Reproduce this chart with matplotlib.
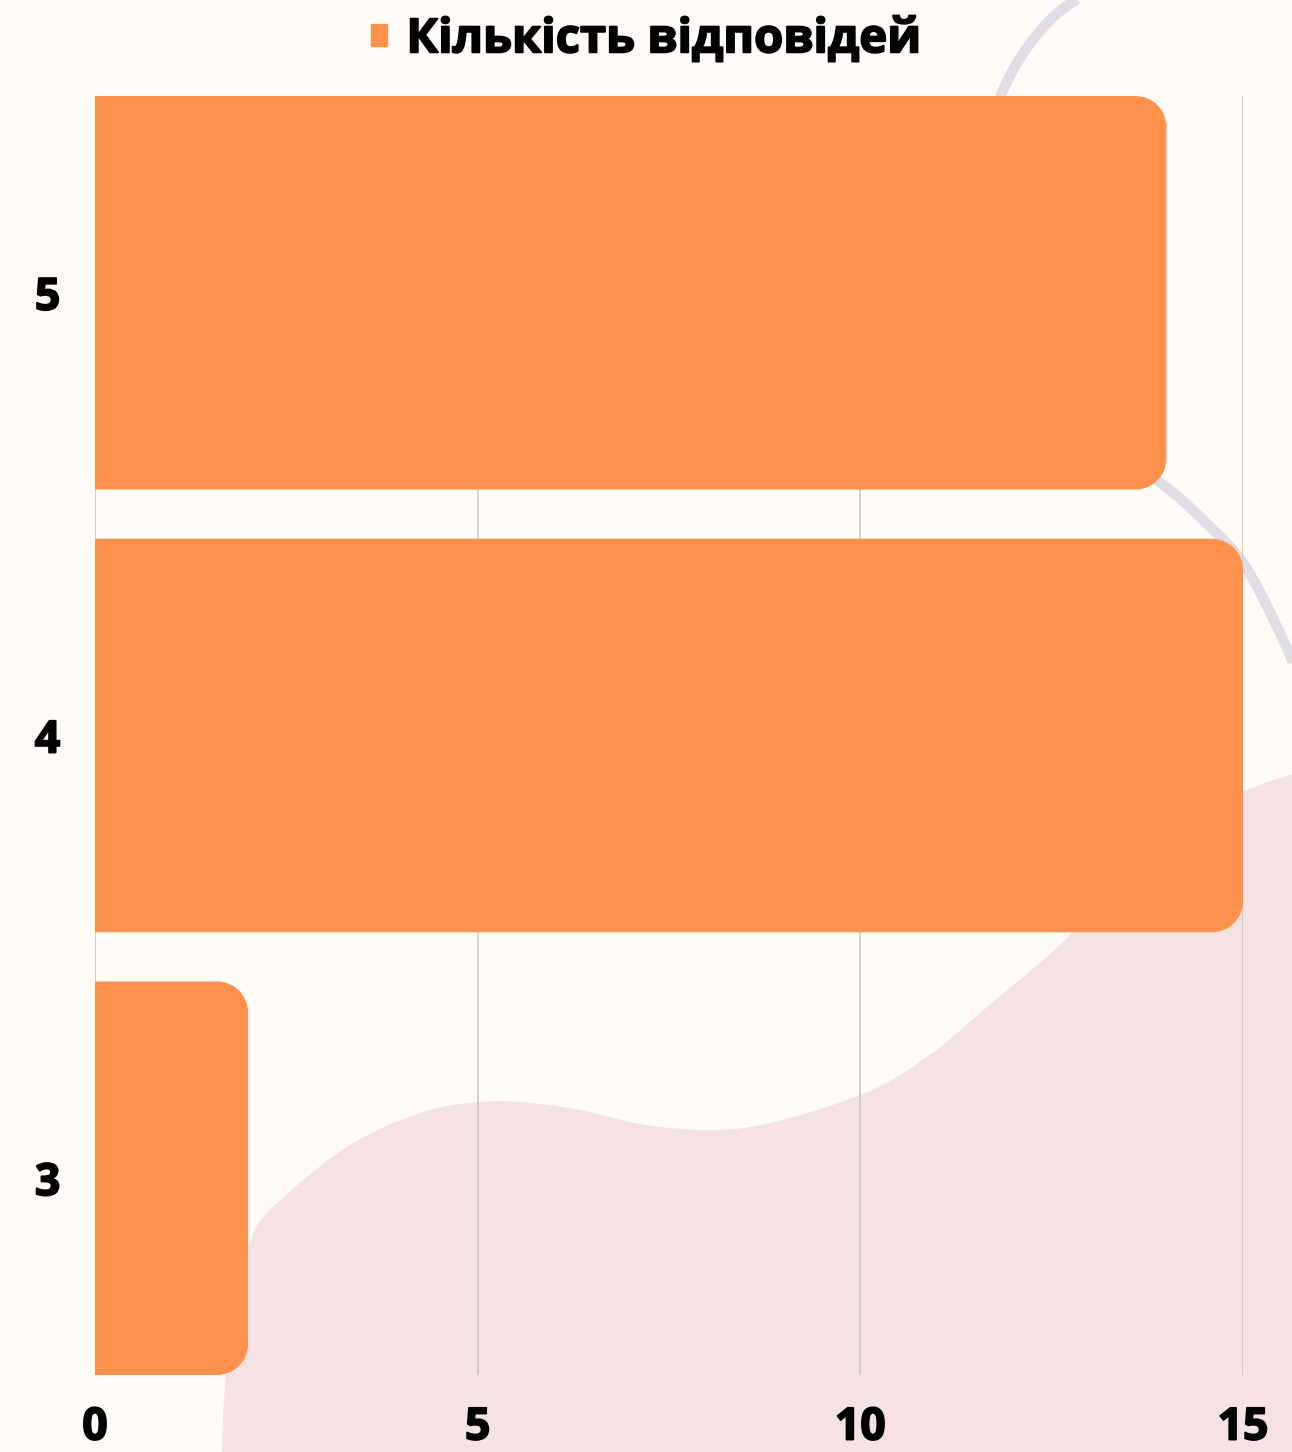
import numpy as np
import matplotlib
matplotlib.use('Agg')
import matplotlib.pyplot as plt
import matplotlib.patches as mpatches
import matplotlib.patheffects as pe
from matplotlib.path import Path

# data
categories = ['3', '4', '5']
responses = [2, 15, 14]
series_label = 'Кількість відповідей'
x_ticks = [0, 5, 10, 15]

BG = '#FFFBF7'
ORANGE = '#FF914D'
PINK = '#F5E3E3'
GREY = '#E0DEE4'
GRID = '#C9C3C3'
W, H = 1292, 1452

plt.rcParams['font.family'] = ['Open Sans', 'DejaVu Sans']
heavy = [pe.withStroke(linewidth=1.3, foreground='black')]


def smooth(pts, n=20):
    # catmull-rom through decorative points
    pts = np.asarray(pts, float)
    p = np.vstack([pts[0], pts, pts[-1]])
    out = []
    for i in range(1, len(p) - 2):
        p0, p1, p2, p3 = p[i - 1], p[i], p[i + 1], p[i + 2]
        for t in np.linspace(0, 1, n, endpoint=False):
            t2, t3 = t * t, t * t * t
            out.append(0.5 * (2 * p1 + (-p0 + p2) * t + (2 * p0 - 5 * p1 + 4 * p2 - p3) * t2 + (-p0 + 3 * p1 - 3 * p2 + p3) * t3))
    out.append(p[-2])
    return np.array(out)


def rounded_bar(x0, x1, yb, yt, rx, ry):
    k = 0.5523
    rx = min(rx, (x1 - x0))
    verts = [(x0, yb), (x1 - rx, yb),
             (x1 - rx + k * rx, yb), (x1, yb + ry - k * ry), (x1, yb + ry),
             (x1, yt - ry),
             (x1, yt - ry + k * ry), (x1 - rx + k * rx, yt), (x1 - rx, yt),
             (x0, yt), (x0, yb)]
    codes = [Path.MOVETO, Path.LINETO,
             Path.CURVE4, Path.CURVE4, Path.CURVE4,
             Path.LINETO,
             Path.CURVE4, Path.CURVE4, Path.CURVE4,
             Path.LINETO, Path.CLOSEPOLY]
    return Path(verts, codes)


fig = plt.figure(figsize=(W / 100, H / 100), dpi=100, facecolor=BG)

# background decoration in pixel space
bg = fig.add_axes([0, 0, 1, 1], zorder=0)
bg.set_xlim(0, W)
bg.set_ylim(H, 0)
bg.axis('off')
bg.set_facecolor(BG)
blob = smooth([(222, 1460), (224, 1400), (232, 1320), (250, 1243), (273, 1207), (347, 1147),
               (420, 1113), (480, 1102), (530, 1103), (580, 1110), (660, 1127), (750, 1127),
               (860, 1095), (927, 1057), (993, 1002), (1060, 945), (1130, 875), (1190, 822),
               (1247, 790), (1300, 772)])
blob = np.vstack([blob, [(1300, 1460)]])
bg.add_patch(mpatches.Polygon(blob, closed=True, facecolor=PINK, edgecolor='none'))
curve = smooth([(1088, -8), (1050, 20), (1013, 70), (990, 130), (975, 220), (1000, 330),
                (1070, 420), (1157, 480), (1200, 517), (1243, 563), (1280, 633), (1300, 680)])
bg.plot(curve[:, 0], curve[:, 1], color=GREY, lw=7.5, solid_capstyle='butt')

# main chart
left, right = 95 / W, 1243 / W
bottom, top = (H - 1375) / H, (H - 96) / H
ax = fig.add_axes([left, bottom, right - left, top - bottom], zorder=1)
ax.set_facecolor('none')
y = np.arange(len(categories))
bar_h = 0.889
ax.set_xlim(0, 15)
ax.set_ylim(-bar_h / 2, len(categories) - 1 + bar_h / 2)

bars = ax.barh(y, responses, height=bar_h, color=ORANGE, label=series_label)
fig.canvas.draw()
sx = ax.transData.transform((1, 0))[0] - ax.transData.transform((0, 0))[0]
sy = ax.transData.transform((0, 1))[1] - ax.transData.transform((0, 0))[1]
r = 31
for b in bars:
    b.set_visible(False)
    p = rounded_bar(b.get_x(), b.get_x() + b.get_width(), b.get_y(), b.get_y() + b.get_height(), r / sx, r / sy)
    ax.add_patch(mpatches.PathPatch(p, facecolor=ORANGE, edgecolor='none', zorder=3))

for xv in x_ticks:
    ax.axvline(xv, color=GRID, lw=1.1, zorder=1)

ax.set_xticks(x_ticks)
ax.set_xticklabels([str(v) for v in x_ticks])
ax.set_yticks(y)
ax.set_yticklabels(categories)
ax.tick_params(axis='x', length=0, pad=22, labelsize=32)
ax.tick_params(axis='y', length=0, pad=25, labelsize=32)
for lab in ax.get_xticklabels() + ax.get_yticklabels():
    lab.set_fontweight('bold')
    lab.set_path_effects(heavy)
for s in ax.spines.values():
    s.set_visible(False)

handle = mpatches.Patch(color=ORANGE, label=series_label)
leg = fig.legend(handles=[handle], loc='upper center', bbox_to_anchor=(0.5, 1.018), frameon=False,
                 handlelength=0.34, handleheight=0.34, handletextpad=0.42,
                 prop={'size': 34, 'weight': 'bold'})
for t in leg.get_texts():
    t.set_path_effects(heavy)

plt.savefig('out.png', dpi=100, facecolor=BG)
